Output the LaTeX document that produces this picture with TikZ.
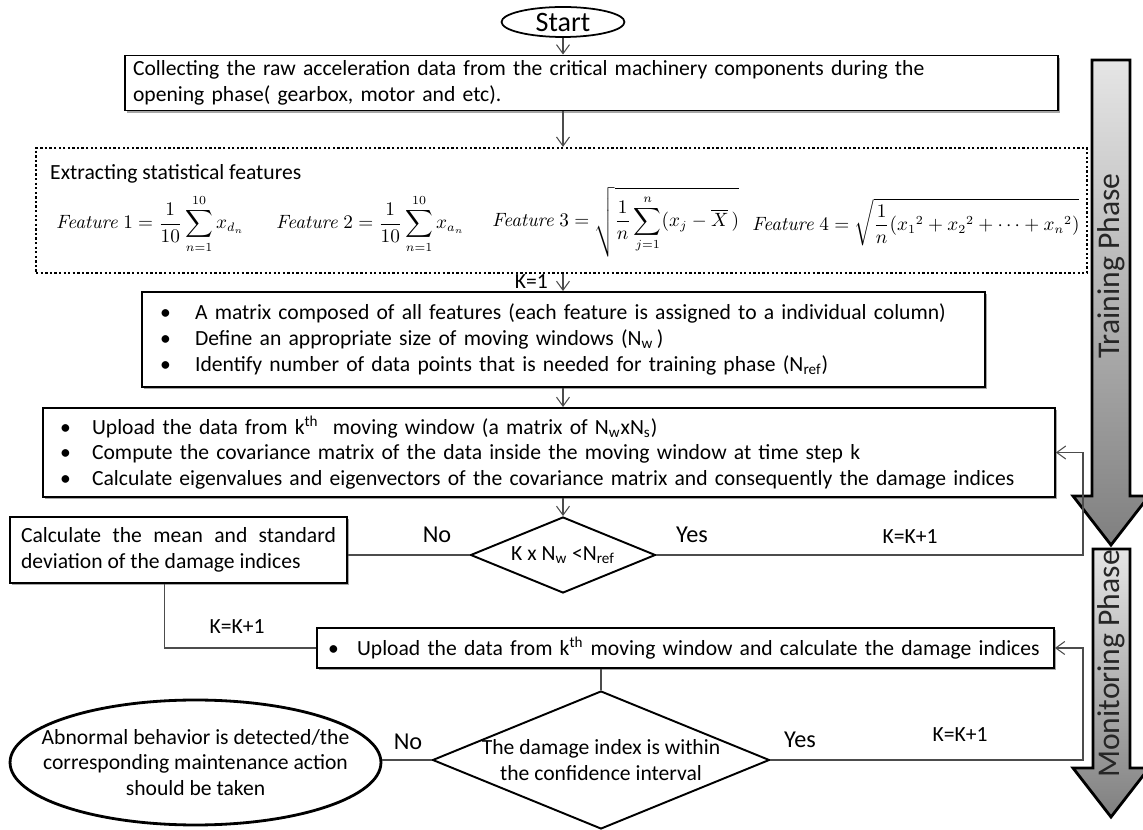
\documentclass[tikz,border=0pt]{standalone}
\usepackage{amsmath}
\usepackage[no-math]{fontspec}
\setmainfont{Carlito}
\usetikzlibrary{arrows.meta,calc,positioning,shapes.geometric,shadows}

\newcommand{\itm}[1]{\makebox[#1][l]{\textbullet}}

\begin{document}
\begin{tikzpicture}[x=0.02cm, y=-0.02cm, >={Straight Barb[length=1.8mm,width=2.6mm]},
    every node/.append style={font=\fontsize{12.3}{14.6}\selectfont},
    box/.style={draw, line width=1.1pt, fill=white, align=left, inner ysep=0pt,
      drop shadow={shadow xshift=1.2pt, shadow yshift=-1.2pt, opacity=0.35, fill=black}},
    cond/.style={draw, diamond, line width=1.1pt, inner sep=0pt},
    link/.style={draw=black!70, line width=0.6pt},
    lbl/.style={font=\fontsize{13.8}{16}\selectfont},
    feat/.style={anchor=west, font=\fontsize{10.5}{13}\selectfont},
    phase/.style={draw, line width=1.6pt, top color=black!10, bottom color=black!50}]
\useasboundingbox (0,0) rectangle (1143,830);

% phase arrows on the right
\draw[phase] (1092,60) -- (1130,60) -- (1130,496) -- (1149,496) -- (1111,545)
  -- (1073,496) -- (1092,496) -- cycle;
\draw[phase] (1093,549) -- (1130,549) -- (1130,768) -- (1149,768) -- (1111,817)
  -- (1073,768) -- (1093,768) -- cycle;
\node[rotate=90, font=\fontsize{18}{20}\selectfont, text=black!85] (trainlbl) at (1111,266) {Training Phase};
\node[rotate=90, font=\fontsize{18}{20}\selectfont, text=black!85] (monlbl) at (1111,664) {Monitoring Phase};

% training part
\node[draw, ellipse, line width=1pt, minimum width=2.46cm, minimum height=0.6cm, inner sep=0pt,
  label={[font=\fontsize{16}{18}\selectfont]center:Start}] (start) at (563,22) {};
\node[box, minimum width=18.66cm, minimum height=1.1cm, inner xsep=0.16cm, text width=18.34cm] (collect) at (591.5,83)
  {Collecting the raw acceleration data from the critical machinery components during the\\
   opening phase( gearbox, motor and etc).};
\node[draw, line width=1.3pt, dash pattern=on 1.3pt off 1.3pt, minimum width=21.02cm, minimum height=2.5cm] (extract) at (561.5,210.5) {};
\node[anchor=west] (extitle) at (44,174) {Extracting statistical features};
\node[feat] (fone) at (50,224)
  {$\displaystyle \mathit{Feature}\ 1=\frac{1}{10}\sum_{n=1}^{10}x_{d_n}$};
\node[feat] (ftwo) at (270,224)
  {$\displaystyle \mathit{Feature}\ 2=\frac{1}{10}\sum_{n=1}^{10}x_{a_n}$};
\node[feat] (fthree) at (486,222)
  {$\displaystyle \mathit{Feature}\ 3=\sqrt{\frac{1}{n}\sum_{j=1}^{n}(x_j-\overline{X}\,)}$};
\node[feat] (ffour) at (746,222)
  {$\displaystyle \mathit{Feature}\ 4=\sqrt{\frac{1}{n}({x_1}^2+{x_2}^2+\cdots+{x_n}^2)}$};

\node[box, minimum width=16.86cm, minimum height=1.9cm, inner xsep=0.36cm, text width=16.14cm] (setup) at (563.5,339.5)
  {\itm{0.7cm}A matrix composed of all features (each feature is assigned to a individual column)\\
   \itm{0.7cm}Define an appropriate size of moving windows (N\textsubscript{w}\,)\\
   \itm{0.7cm}Identify number of data points that is needed for training phase (N\textsubscript{ref})};
\node[box, minimum width=20.24cm, minimum height=1.78cm, inner xsep=0.34cm, text width=19.56cm] (window) at (549,452.5)
  {\itm{0.64cm}Upload the data from k\textsuperscript{th}~ moving window (a matrix of N\textsubscript{w}xN\textsubscript{s})\\
   \itm{0.64cm}Compute the covariance matrix of the data inside the moving window at time step k\\
   \itm{0.64cm}Calculate eigenvalues and eigenvectors of the covariance matrix and consequently the damage indices};
\node[cond, minimum width=3.7cm, minimum height=1.52cm,
  label={center:K x N\textsubscript{w} <N\textsubscript{ref}}] (check) at (563,555) {};
\node[box, align=justify, minimum width=6.74cm, minimum height=1.32cm, inner xsep=0.22cm, text width=6.3cm] (stats) at (178.5,550)
  {Calculate the mean and standard\linebreak deviation of the damage indices};

% monitoring part
\node[box, minimum width=14.74cm, minimum height=0.8cm, inner xsep=0.22cm, text width=14.3cm] (upload) at (685.5,648)
  {\mbox{\itm{0.58cm}Upload the data from k\textsuperscript{th} moving window and calculate the damage indices}};
\node[cond, minimum width=6.74cm, minimum height=2.76cm,
  label={[align=center]center:The damage index is within\\the confidence interval}] (decide) at (601,760) {};
\node[draw, ellipse, line width=1.6pt, minimum width=7.42cm, minimum height=2.5cm, inner sep=0pt,
  label={[align=center]center:Abnormal behavior is detected/the\\corresponding maintenance action\\should be taken}] (alarm) at (195.5,762.5) {};

% connectors
\draw[link,->] (start) -- (start |- collect.north);
\draw[link,->] (start |- collect.south) -- (start |- extract.north);
\draw[link,->] (start |- extract.south) -- (start |- setup.north);
\node[anchor=east] (kone) at (554,282) {K=1};
\draw[link,->] (start |- setup.south) -- (start |- window.north);
\draw[link,->] (start |- window.south) -- (check.north);

\draw[link] (check.west) -- (check.west -| stats.east);
\node[lbl] (nochk) at (437,535) {No};
\coordinate (tback) at (1083,555);
\draw[link,->] (check.east) -- (tback) |- (window.east);
\node[lbl] (yeschk) at (692,535) {Yes};
\node (incone) at (910,537) {K=K+1};

\draw[link] ($(stats.south)+(-14,0)$) |- (upload.west);
\node (inctwo) at (237,627) {K=K+1};
\draw[link] (decide |- upload.south) -- (decide.north);
\draw[link] (decide.west) -- (decide.west -| alarm.east);
\node[lbl] (nodec) at (408,742) {No};
\coordinate (mback) at (1083,760);
\draw[link,->] (decide.east) -- (mback) |- (upload.east);
\node[lbl] (yesdec) at (800,740) {Yes};
\node (incthree) at (960,735) {K=K+1};
\end{tikzpicture}
\end{document}
